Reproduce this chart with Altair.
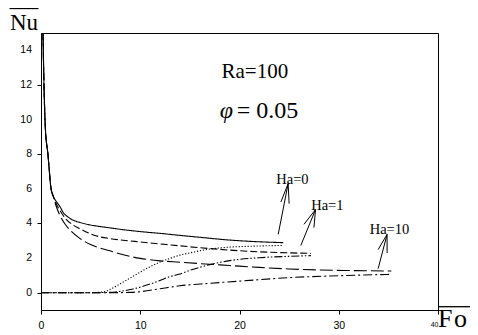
import altair as alt
import pandas as pd

# ---------------- data ----------------
# decreasing curves (average Nu of the hot wall)
HA0_DEC_X = [0.2, 0.3, 0.45, 0.7, 1.0, 1.25, 1.5, 1.9, 2.25, 2.7, 3.2, 3.9, 4.8, 5.6, 7, 8, 10, 12.3, 14, 16, 19, 22, 24.4]
HA0_DEC_Y = [15, 12, 9.4, 8.0, 6.05, 5.55, 5.3, 4.98, 4.62, 4.38, 4.2, 4.06, 3.93, 3.85, 3.74, 3.66, 3.53, 3.41, 3.31, 3.2, 3.04, 2.94, 2.89]
HA1_DEC_X = [0.2, 0.3, 0.45, 0.7, 1.0, 1.25, 1.5, 1.9, 2.4, 3, 3.9, 5, 5.9, 7, 8, 10, 13, 16, 19, 22, 25, 27.2]
HA1_DEC_Y = [15, 12, 9.4, 8.0, 6.05, 5.55, 5.18, 4.76, 4.33, 4.0, 3.7, 3.4, 3.23, 3.12, 3.05, 2.93, 2.76, 2.6, 2.46, 2.36, 2.3, 2.27]
HA10_DEC_X = [0.2, 0.3, 0.45, 0.7, 1.0, 1.25, 1.5, 1.9, 2.4, 3, 3.9, 5, 6.95, 8.5, 10, 12, 14, 16, 19, 22, 25, 28, 31, 35.3]
HA10_DEC_Y = [15, 12, 9.4, 8.0, 6.05, 5.55, 5.05, 4.47, 3.98, 3.57, 3.14, 2.78, 2.42, 2.16, 1.98, 1.84, 1.76, 1.68, 1.57, 1.46, 1.37, 1.31, 1.28, 1.25]
# increasing curves (average Nu of the cold wall)
HA0_INC_X = [0, 3, 5, 6.3, 7, 8, 9, 10, 11, 12, 13, 14, 15, 17, 19, 21, 24.4]
HA0_INC_Y = [0, 0, 0, 0.05, 0.2, 0.52, 0.85, 1.19, 1.5, 1.77, 1.98, 2.17, 2.3, 2.52, 2.63, 2.68, 2.73]
HA1_INC_X = [0, 5, 7, 8, 9, 10, 11, 12, 13, 14, 15, 17, 19, 22, 25, 27.2]
HA1_INC_Y = [0, 0, 0.02, 0.08, 0.18, 0.32, 0.5, 0.71, 0.93, 1.08, 1.29, 1.62, 1.85, 2.02, 2.1, 2.14]
HA10_INC_X = [0, 7, 9, 10, 12, 14, 17, 21, 25, 30, 35.3]
HA10_INC_Y = [0, 0, 0.02, 0.06, 0.23, 0.4, 0.54, 0.71, 0.87, 0.98, 1.06]

SERIES = ["Ha0 dec", "Ha0 inc", "Ha1 dec", "Ha1 inc", "Ha10 dec", "Ha10 inc"]
DASHES = [[1, 0], [1.2, 1.8], [7, 3], [8, 2, 1.5, 2, 1.5, 2], [13, 4], [9, 3, 2, 3]]

# labels with arrows
HA_LABELS = ["Ha=0", "Ha=1", "Ha=10"]
HA_LABEL_X = [25.33, 28.85, 35.11]
HA_LABEL_Y = [6.3, 4.8, 3.37]
# arrow segments: shaft + two head strokes, each ending at the tip
SEG_X = [23.9, 24.17, 25.0, 26.18, 26.5, 27.5, 33.97, 33.97, 34.87]
SEG_Y = [3.37, 5.24, 5.14, 2.73, 3.95, 3.76, 1.39, 2.49, 2.29]
SEG_X2 = [24.9, 24.9, 24.9, 27.66, 27.66, 27.66, 34.87, 34.87, 34.87]
SEG_Y2 = [6.3, 6.3, 6.3, 4.8, 4.8, 4.8, 3.37, 3.37, 3.37]

X_TICKS = [0, 10, 20, 30, 40]
Y_TICKS = [0, 2, 4, 6, 8, 10, 12, 14]

# ---------------- tables ----------------
rows = []
for name, xs_, ys_ in [
    ("Ha0 dec", HA0_DEC_X, HA0_DEC_Y), ("Ha0 inc", HA0_INC_X, HA0_INC_Y),
    ("Ha1 dec", HA1_DEC_X, HA1_DEC_Y), ("Ha1 inc", HA1_INC_X, HA1_INC_Y),
    ("Ha10 dec", HA10_DEC_X, HA10_DEC_Y), ("Ha10 inc", HA10_INC_X, HA10_INC_Y),
]:
    for a, b in zip(xs_, ys_):
        rows.append({"series": name, "x": a, "y": b})
df = pd.DataFrame(rows)
seg_df = pd.DataFrame({"x": SEG_X, "y": SEG_Y, "x2": SEG_X2, "y2": SEG_Y2})
lab_df = pd.DataFrame({"t": HA_LABELS, "x": HA_LABEL_X, "y": HA_LABEL_Y})
ytick_df = pd.DataFrame({"v": Y_TICKS, "t": [str(v) for v in Y_TICKS]})

SERIF = "Liberation Serif"
SANS = "Liberation Sans"

xs = alt.Scale(domain=[0, 40], nice=False, zero=False)
ys = alt.Scale(domain=[-1, 15], nice=False, zero=False)

x_axis = alt.Axis(
    values=X_TICKS, title=None, grid=False, tickSize=4, labelPadding=6,
    labelFont=SANS, labelColor="black", domainColor="black", tickColor="black",
    labelFlush=False, labelOverlap=False,
    labelFontSize={"condition": {"test": "datum.value == 40", "value": 7}, "value": 10.5},
    labelAlign={"condition": {"test": "datum.value == 40", "value": "right"}, "value": "center"},
)
y_axis = alt.Axis(
    values=Y_TICKS, title=None, grid=False, tickSize=4, labels=False,
    domainColor="black", tickColor="black",
)

lines = alt.Chart(df).mark_line(interpolate="monotone", clip=True, strokeWidth=1.1, color="black").encode(
    x=alt.X("x:Q", scale=xs, axis=x_axis, title=None),
    y=alt.Y("y:Q", scale=ys, axis=y_axis, title=None),
    strokeDash=alt.StrokeDash("series:N", scale=alt.Scale(domain=SERIES, range=DASHES), legend=None),
    detail="series:N",
)

# y tick labels drawn as text (to the left of the axis)
ylabels = alt.Chart(ytick_df).mark_text(font=SANS, fontSize=10.5, align="right", baseline="middle", color="black").encode(
    x=alt.value(-9), y=alt.Y("v:Q", scale=ys, title=None), text="t:N")

arrows = alt.Chart(seg_df).mark_rule(color="black", strokeWidth=1).encode(
    x=alt.X("x:Q", scale=xs, title=None), y=alt.Y("y:Q", scale=ys, title=None),
    x2="x2:Q", y2="y2:Q",
)

ha_text = alt.Chart(lab_df).mark_text(font=SERIF, fontSize=14.5, align="center", baseline="alphabetic", color="black").encode(
    x=alt.X("x:Q", scale=xs, title=None), y=alt.Y("y:Q", scale=ys, title=None), text="t:N",
)

ra_text = alt.Chart(pd.DataFrame({"t": ["Ra=100"], "x": [24.9], "y": [12.42]})).mark_text(
    font=SERIF, fontSize=21, align="right", baseline="alphabetic", color="black").encode(
    x=alt.X("x:Q", scale=xs, title=None), y=alt.Y("y:Q", scale=ys, title=None), text="t:N")

phi_sym = alt.Chart(pd.DataFrame({"t": ["φ"], "x": [19.35], "y": [10.11]})).mark_text(
    font=SERIF, fontSize=24, fontStyle="italic", align="right", baseline="alphabetic", color="black").encode(
    x=alt.X("x:Q", scale=xs, title=None), y=alt.Y("y:Q", scale=ys, title=None), text="t:N")

phi_val = alt.Chart(pd.DataFrame({"t": ["= 0.05"], "x": [25.92], "y": [10.11]})).mark_text(
    font=SERIF, fontSize=24, align="right", baseline="alphabetic", color="black").encode(
    x=alt.X("x:Q", scale=xs, title=None), y=alt.Y("y:Q", scale=ys, title=None), text="t:N")

# axis titles with overlines (placed in pixels outside the plot area)
nu_title = alt.Chart(pd.DataFrame({"t": ["Nu"]})).mark_text(
    font=SERIF, fontSize=23, align="left", baseline="alphabetic", color="black").encode(
    x=alt.value(-31), y=alt.value(-3), text="t:N")
nu_bar = alt.Chart(pd.DataFrame({"a": [0]})).mark_rule(color="black", strokeWidth=1.3).encode(
    x=alt.value(-31.5), x2=alt.value(-2.5), y=alt.value(-24.5))

fo_f = alt.Chart(pd.DataFrame({"t": ["F"]})).mark_text(
    font=SERIF, fontSize=26, align="left", baseline="alphabetic", color="black").encode(
    x=alt.value(397), y=alt.value(294), text="t:N")
fo_o = alt.Chart(pd.DataFrame({"t": ["o"]})).mark_text(
    font=SERIF, fontSize=26, align="left", baseline="alphabetic", color="black").encode(
    x=alt.value(413), y=alt.value(294), text="t:N")
fo_bar = alt.Chart(pd.DataFrame({"a": [0]})).mark_rule(color="black", strokeWidth=1.3).encode(
    x=alt.value(397), x2=alt.value(429), y=alt.value(273.7))

chart = alt.layer(
    lines, ylabels, arrows, ha_text, ra_text, phi_sym, phi_val, nu_title, nu_bar, fo_f, fo_o, fo_bar
).properties(
    width=397, height=277,
    autosize=alt.AutoSizeParams(type="none"),
    padding={"left": 33, "top": 25, "right": 32, "bottom": 26},
).configure_view(stroke="black", strokeWidth=1)

chart.save("out.html", embed_options={"renderer": "svg", "actions": False})
